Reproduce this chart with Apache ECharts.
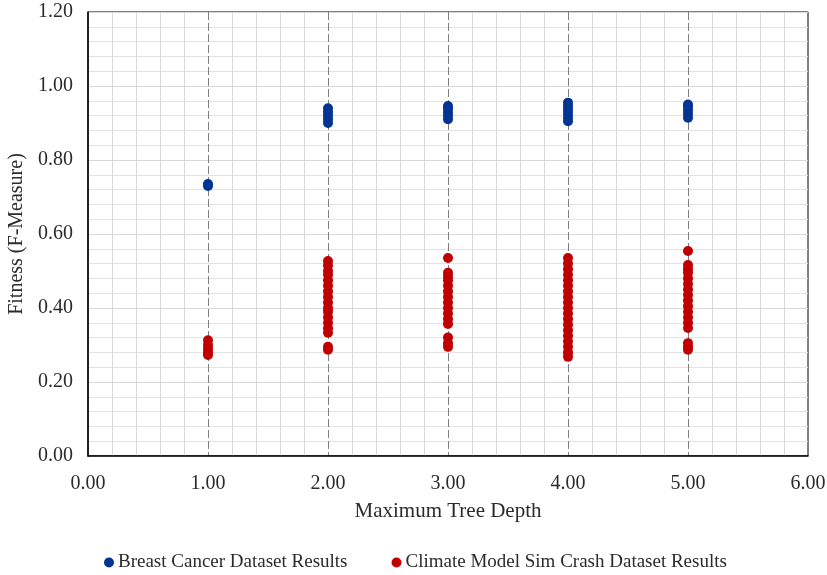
<!DOCTYPE html>
<html><head><meta charset="utf-8">
<script src="https://cdn.jsdelivr.net/npm/echarts@6/dist/echarts.min.js"></script>
<style>html,body{margin:0;padding:0;background:#fff}#c{width:827px;height:575px}</style>
</head><body><div id="c"></div>
<script>
const depths = [1, 2, 3, 4, 5];
const breastCancer = [
  [0.730, 0.735],
  [0.900, 0.910, 0.920, 0.930, 0.940],
  [0.910, 0.920, 0.930, 0.940, 0.946],
  [0.905, 0.915, 0.925, 0.935, 0.945, 0.955],
  [0.914, 0.925, 0.935, 0.945, 0.950]
];
const climateCrash = [
  [0.273, 0.280, 0.290, 0.300, 0.313],
  [0.287, 0.295, 0.333, 0.345, 0.360, 0.375, 0.390, 0.400, 0.415, 0.430, 0.445, 0.460, 0.475, 0.490, 0.500, 0.515, 0.527],
  [0.295, 0.305, 0.320, 0.357, 0.370, 0.385, 0.400, 0.415, 0.430, 0.445, 0.460, 0.475, 0.485, 0.495, 0.535],
  [0.268, 0.280, 0.295, 0.310, 0.325, 0.340, 0.355, 0.370, 0.385, 0.400, 0.415, 0.430, 0.445, 0.460, 0.475, 0.490, 0.505, 0.520, 0.535],
  [0.287, 0.295, 0.305, 0.346, 0.360, 0.375, 0.390, 0.405, 0.420, 0.435, 0.450, 0.465, 0.480, 0.495, 0.505, 0.516, 0.554]
];
const seriesNames = ['Breast Cancer Dataset Results', 'Climate Model Sim Crash Dataset Results'];

function toPoints(groups) {
  const pts = [];
  groups.forEach((vals, i) => vals.forEach(v => pts.push([depths[i], v])));
  return pts;
}

const font = 'Liberation Serif, Times New Roman, serif';
const txt = '#2b2b2b';
const chart = echarts.init(document.getElementById('c'));
chart.setOption({
  animation: false,
  grid: { left: 88, right: 19, top: 12, bottom: 119, containLabel: false, outerBoundsMode: 'none', show: true, borderColor: '#000', borderWidth: 1, backgroundColor: 'transparent' },
  legend: {
    top: 548, left: 99, itemGap: 44, itemWidth: 10, itemHeight: 10,
    icon: 'circle',
    textStyle: { fontFamily: font, fontSize: 19, color: txt, padding: [0, 0, 0, -1] },
    data: seriesNames
  },
  xAxis: {
    type: 'value', min: 0, max: 6, interval: 1,
    name: 'Maximum Tree Depth', nameLocation: 'middle', nameGap: 45,
    nameTextStyle: { fontFamily: font, fontSize: 21, color: txt },
    axisLine: { show: true, lineStyle: { color: '#000', width: 1.5 } },
    axisTick: { show: false },
    axisLabel: { fontFamily: font, fontSize: 20, color: txt, margin: 18, formatter: v => v.toFixed(2) },
    splitLine: { show: true, lineStyle: { color: '#7f7f7f', type: [8, 3], width: 1 } },
    minorTick: { show: false, splitNumber: 5 },
    minorSplitLine: { show: true, lineStyle: { color: '#d9d9d9', width: 1 } }
  },
  yAxis: {
    type: 'value', min: 0, max: 1.2, interval: 0.2,
    name: 'Fitness (F-Measure)', nameLocation: 'middle', nameGap: 55,
    nameTextStyle: { fontFamily: font, fontSize: 20, color: txt },
    axisLine: { show: true, lineStyle: { color: '#000', width: 1.5 } },
    axisTick: { show: false },
    axisLabel: { fontFamily: font, fontSize: 20, color: txt, margin: 15, formatter: v => v.toFixed(2) },
    splitLine: { show: true, lineStyle: { color: '#d9d9d9', width: 1 } },
    minorTick: { show: false, splitNumber: 5 },
    minorSplitLine: { show: true, lineStyle: { color: '#e3e3e3', width: 1 } }
  },
  series: [
    { name: seriesNames[0], type: 'scatter', symbolSize: 10, itemStyle: { color: '#003594', opacity: 1 }, data: toPoints(breastCancer), z: 3 },
    { name: seriesNames[1], type: 'scatter', symbolSize: 10, itemStyle: { color: '#c00000', opacity: 1 }, data: toPoints(climateCrash), z: 3 }
  ]
});
</script></body></html>
